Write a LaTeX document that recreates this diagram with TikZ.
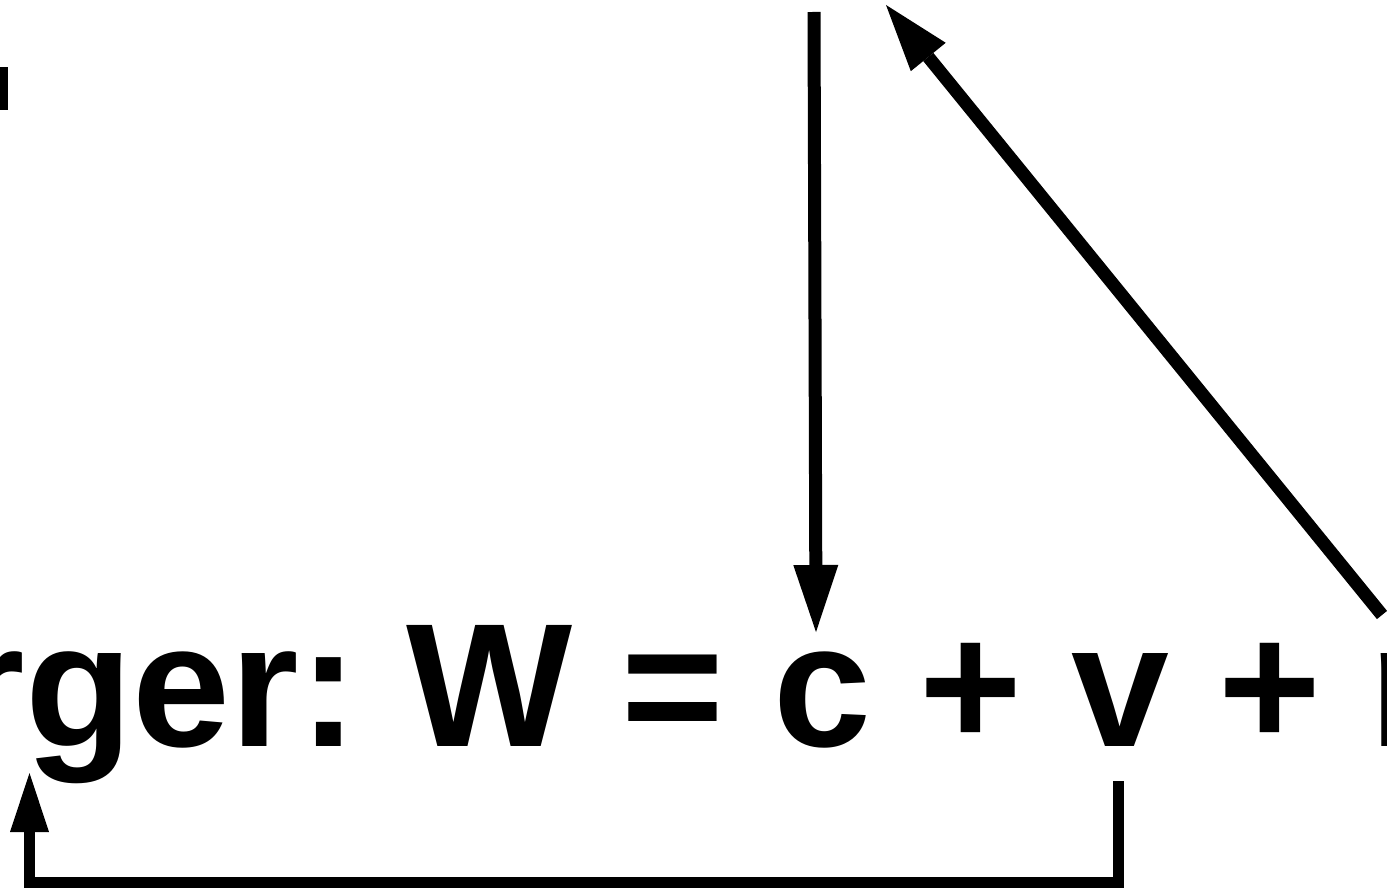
\documentclass[tikz,border=0pt]{standalone}
\usepackage{fontspec}
\setmainfont{Liberation Sans}
\usetikzlibrary{arrows.meta}

\begin{document}
\begin{tikzpicture}[x=1pt, y=-1pt,
  bigarrow/.style={line width=13pt, -{Triangle[length=67pt, width=45pt, line width=0pt]}},
  smallarrow/.style={line width=11pt, -{Triangle[length=59pt, width=39pt, line width=0pt]}}]
  \useasboundingbox (0,0) rectangle (1387,890);
  \clip (0,0) rectangle (1387,890);
  % formula line, cut at both sides
  \node[anchor=base west, inner sep=0pt, font=\fontsize{176}{200}\selectfont\bfseries\frenchspacing] (formula) at (-43.5,746.5) {rger: W = c + v + m};
  \fill (0,67) rectangle (8,110);
  \coordinate (ctail) at (814,12);
  \coordinate (ctop) at (816,632);
  \coordinate (mtail) at (1382,615);
  \coordinate (wtip) at (886,5);
  \coordinate (vfoot) at (1118.5,781);
  \coordinate (gtip) at (29.5,773);
  \draw[bigarrow] (ctail) -- (ctop);
  \draw[bigarrow] (mtail) -- (wtip);
  \draw[smallarrow] (vfoot) -- ++(0,101.5) -| (gtip);
\end{tikzpicture}
\end{document}
